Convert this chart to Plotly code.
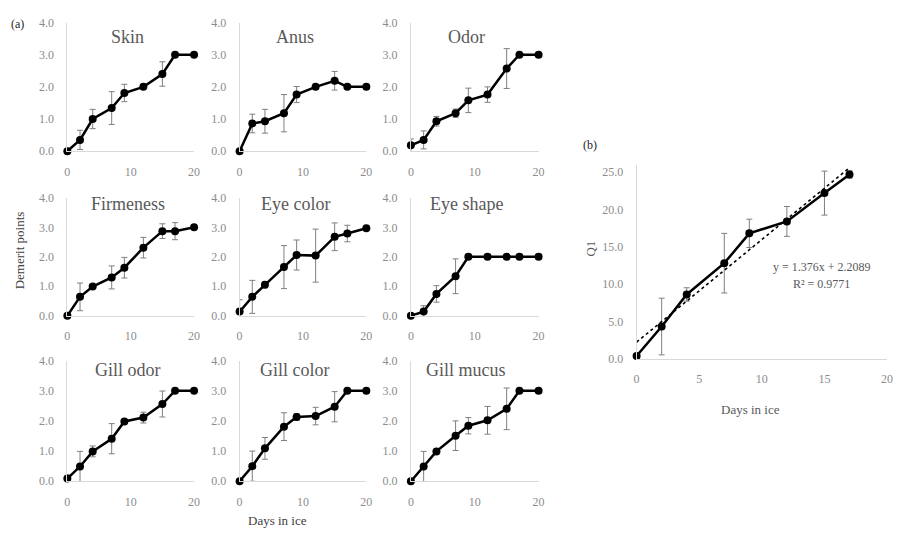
import plotly.graph_objects as go

days = [0, 2, 4, 7, 9, 12, 15, 17, 20]
titles = ["Skin", "Anus", "Odor", "Firmeness", "Eye color", "Eye shape",
          "Gill odor", "Gill color", "Gill mucus"]

skin = [0, 0.35, 1.0, 1.34, 1.81, 2.0, 2.4, 3.0, 3.0]
skin_err = [0, 0.3, 0.3, 0.51, 0.27, 0, 0.38, 0, 0]
anus = [0, 0.86, 0.93, 1.18, 1.76, 2.0, 2.19, 2.0, 2.0]
anus_err = [0, 0.29, 0.37, 0.58, 0.25, 0, 0.29, 0, 0]
odor = [0.18, 0.35, 0.93, 1.18, 1.58, 1.76, 2.57, 3.0, 3.0]
odor_err = [0.2, 0.28, 0.15, 0.13, 0.38, 0.24, 0.62, 0, 0]
firmeness = [0, 0.64, 0.99, 1.30, 1.63, 2.31, 2.87, 2.87, 3.0]
firmeness_err = [0, 0.47, 0, 0.39, 0.35, 0.35, 0.25, 0.29, 0]
eye_color = [0.14, 0.64, 1.05, 1.65, 2.06, 2.04, 2.68, 2.79, 2.97]
eye_color_err = [0.4, 0.56, 0.1, 0.73, 0.51, 0.9, 0.47, 0.28, 0]
eye_shape = [0, 0.14, 0.74, 1.34, 2.0, 2.0, 2.0, 2.0, 2.0]
eye_shape_err = [0, 0.2, 0.28, 0.59, 0, 0, 0, 0, 0]
gill_odor = [0.09, 0.49, 0.99, 1.41, 1.98, 2.11, 2.56, 3.0, 3.0]
gill_odor_err = [0.12, 0.5, 0.18, 0.5, 0, 0.18, 0.43, 0, 0]
gill_color = [0, 0.5, 1.09, 1.81, 2.13, 2.16, 2.47, 3.0, 3.0]
gill_color_err = [0, 0.5, 0.36, 0.46, 0.11, 0.29, 0.5, 0, 0]
gill_mucus = [0, 0.49, 0.99, 1.51, 1.84, 2.02, 2.4, 3.0, 3.0]
gill_mucus_err = [0, 0.5, 0, 0.49, 0.27, 0.46, 0.69, 0, 0]

series = [skin, anus, odor, firmeness, eye_color, eye_shape, gill_odor, gill_color, gill_mucus]
errors = [skin_err, anus_err, odor_err, firmeness_err, eye_color_err, eye_shape_err,
          gill_odor_err, gill_color_err, gill_mucus_err]

q1_days = [0, 2, 4, 7, 9, 12, 15, 17]
q1 = [0.35, 4.3, 8.6, 12.8, 16.8, 18.4, 22.2, 24.7]
q1_err = [0, 3.8, 0.9, 4.0, 1.9, 2.0, 2.95, 0.5]
trend_slope = 1.376
trend_intercept = 2.2089
trend_x = [0, 17]

a_yticks = [0, 1, 2, 3, 4]
a_xticks = [0, 10, 20]
b_xticks = [0, 5, 10, 15, 20]
b_yticks = [0, 5, 10, 15, 20, 25]

W, H = 901, 536
FONT = "Liberation Serif"
TICKC = "#8c8c8c"
AXC = "#d9d9d9"


def px(x):
    return x / W


def py(y):
    return 1 - y / H


col_x = [(65, 193), (239, 367), (412, 541)]
row_y = [(16, 148), (196, 317), (363, 487)]
title_x = [126, 295, 468]
title_y = [31, 202, 373]

fig = go.Figure()
layout = {}
annotations = []

xax_style = dict(showgrid=False, zeroline=False, showline=True, linecolor=AXC, linewidth=1,
                 ticks="", ticklabelstandoff=9,
                 tickfont=dict(family=FONT, size=12, color=TICKC))
yax_style = dict(showgrid=False, zeroline=False, showline=True, linecolor=AXC, linewidth=1,
                 ticks="", ticklabelstandoff=10, tickformat=".1f",
                 tickfont=dict(family=FONT, size=12, color=TICKC))

for i in range(9):
    r, c = divmod(i, 3)
    n = i + 1
    xa = "x" if n == 1 else f"x{n}"
    ya = "y" if n == 1 else f"y{n}"
    fig.add_trace(go.Scatter(
        x=days, y=series[i], xaxis=xa, yaxis=ya, mode="lines+markers",
        line=dict(color="black", width=2.5),
        marker=dict(color="black", size=8),
        error_y=dict(type="data", array=errors[i], color="#7f7f7f", thickness=1, width=3),
        cliponaxis=False, showlegend=False))
    xk = "xaxis" if n == 1 else f"xaxis{n}"
    yk = "yaxis" if n == 1 else f"yaxis{n}"
    layout[xk] = dict(domain=[px(col_x[c][0]), px(col_x[c][1])], anchor=ya,
                      range=[0, 20], tickvals=a_xticks, **xax_style)
    layout[yk] = dict(domain=[py(row_y[r][1]), py(row_y[r][0])], anchor=xa,
                      range=[0, 4], tickvals=a_yticks, **yax_style)
    annotations.append(dict(text=titles[i], x=px(title_x[c]), y=py(title_y[r]),
                            xref="paper", yref="paper", showarrow=False,
                            xanchor="center", yanchor="middle",
                            font=dict(family=FONT, size=18, color="#595959")))

# panel b
fig.add_trace(go.Scatter(
    x=q1_days, y=q1, xaxis="x10", yaxis="y10", mode="lines+markers",
    line=dict(color="black", width=2.5), marker=dict(color="black", size=8),
    error_y=dict(type="data", array=q1_err, color="#7f7f7f", thickness=1, width=3),
    cliponaxis=False, showlegend=False))
fig.add_trace(go.Scatter(
    x=trend_x, y=[trend_slope * v + trend_intercept for v in trend_x],
    xaxis="x10", yaxis="y10", mode="lines",
    line=dict(color="black", width=1.6, dash="dot"), cliponaxis=False, showlegend=False))
layout["xaxis10"] = dict(domain=[px(640), px(893)], anchor="y10", range=[0, 20],
                         tickvals=b_xticks, **xax_style)
layout["yaxis10"] = dict(domain=[py(361), py(162)], anchor="x10", range=[0, 26],
                         tickvals=b_yticks, **yax_style)


def label(text, x, y, size=13, color="#404040", angle=0, anchor="center"):
    annotations.append(dict(text=text, x=px(x), y=py(y), xref="paper", yref="paper",
                            showarrow=False, xanchor=anchor, yanchor="middle",
                            textangle=angle, font=dict(family=FONT, size=size, color=color)))


label("(a)", 15, 17, size=12, color="#262626")
label("(b)", 593, 142, size=12, color="#262626")
label("Demerit points", 17, 250, size=13, angle=-90)
label("Days in ice", 277, 527, size=13)
label("Days in ice", 755, 413, size=13, color="#595959")
label("Q1", 593, 248, size=13, color="#595959", angle=-90)
label(f"y = {trend_slope}x + {trend_intercept}", 827, 267, size=12, color="#595959")
label("R² = 0.9771", 827, 284, size=12, color="#595959")

fig.update_layout(**layout)
fig.update_layout(width=W, height=H, margin=dict(l=0, r=0, t=0, b=0),
                  paper_bgcolor="white", plot_bgcolor="white",
                  annotations=annotations, showlegend=False)
fig.write_html("out.html")
